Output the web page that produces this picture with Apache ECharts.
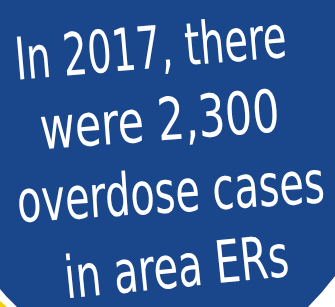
<!DOCTYPE html>
<html><head><meta charset="utf-8">
<script src="https://cdn.jsdelivr.net/npm/echarts@6/dist/echarts.min.js"></script>
<style>html,body{margin:0;padding:0;background:#fff}#c{width:335px;height:307px}</style>
</head><body><div id="c"></div>
<script>
const year = 2017;
const cases = "2,300";
const lines = ["In " + year + ", there", "were " + cases, "overdose cases", "in area ERs"];
const lineX = [151, 160, 171, 177];
const lineY = [53, 125, 197, 272];
const lineW = [272, 240, 308, 225];
const lineRot = [0.085, 0.075, 0.065, 0.1];

const fontFamily = '"DejaVu Sans Condensed", "DejaVu Sans", sans-serif';
const fontSize = 56;
const cv = document.createElement('canvas').getContext('2d');
cv.font = fontSize + 'px ' + fontFamily;

const chart = echarts.init(document.getElementById('c'), null, {renderer: 'canvas'});
const blue = '#1a468c';
const textEls = lines.map((t, i) => ({
  type: 'text', x: lineX[i], y: lineY[i], rotation: lineRot[i],
  scaleX: lineW[i] / cv.measureText(t).width, scaleY: 1.05,
  style: {
    text: t, fill: '#ffffff', fontFamily: fontFamily, fontSize: fontSize,
    align: 'center', verticalAlign: 'middle', textAlign: 'center', textVerticalAlign: 'middle'
  }
}));
chart.setOption({
  animation: false,
  graphic: [
    {type: 'rect', shape: {x: 0, y: 0, width: 335, height: 307}, style: {fill: blue}},
    {type: 'polygon', shape: {points: [[0, 289], [6, 296], [12, 302], [17, 307], [0, 307]]}, style: {fill: '#ffffff'}},
    {type: 'polygon', shape: {points: [[0, 301], [7, 307], [0, 307]]}, style: {fill: '#f2cf00'}},
    {type: 'polygon', shape: {points: [[335, 276], [322, 292], [308, 307], [335, 307]]}, style: {fill: '#ffffff'}}
  ].concat(textEls)
});
</script></body></html>
